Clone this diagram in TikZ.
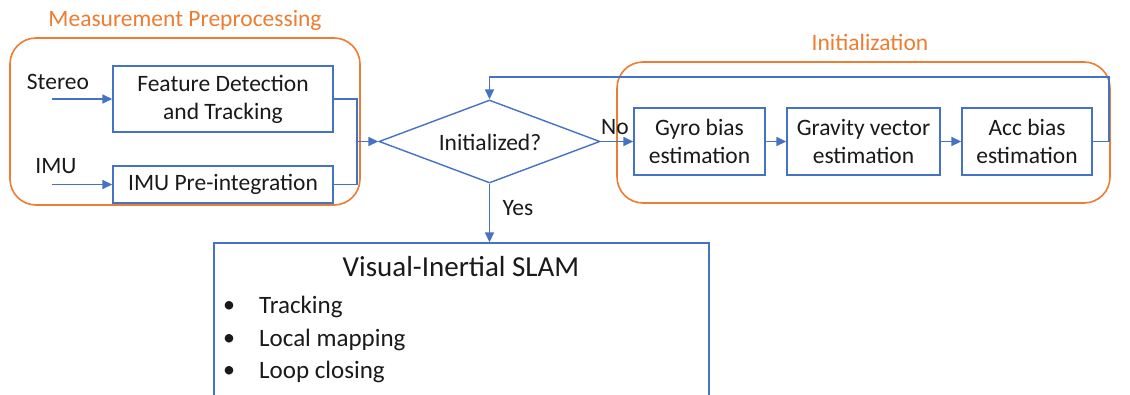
\documentclass[tikz,border=0pt]{standalone}
\usepackage{fontspec}
\setmainfont{Carlito}
\usetikzlibrary{arrows.meta,shapes.geometric}
\definecolor{oblue}{HTML}{4472C4}
\definecolor{oorange}{HTML}{ED7D31}
\definecolor{otext}{HTML}{1A1A1A}
\tikzset{
  bbox/.style={draw=oblue, line width=1.4pt, fill=white, align=center, text=otext, inner sep=0pt, font=\fontsize{23.5}{28}\selectfont},
  grp/.style={draw=oorange, line width=1.6pt, rounded corners=26pt, fill=none, inner sep=0pt},
  grptitle/.style={text=oorange, font=\fontsize{23.5}{28}\selectfont, inner sep=0pt},
  lbl/.style={text=otext, font=\fontsize{23.5}{28}\selectfont, inner sep=0pt},
  conn/.style={draw=oblue, line width=1.5pt},
  arr/.style={conn, -{Triangle[length=10pt,width=9pt]}},
  item/.style={text=otext, font=\fontsize{25}{30}\selectfont, inner sep=0pt, anchor=west},
  bul/.style={text=otext, font=\fontsize{24}{28}\selectfont, inner sep=0pt}
}
\begin{document}
\begin{tikzpicture}[x=1pt,y=-1pt]
\useasboundingbox (0,0) rectangle (1130,394);
\clip (0,0) rectangle (1130,394);
\fill[white] (0,0) rectangle (1130,394);
% groups
\node[grp, minimum width=350pt, minimum height=167pt] (gmeas) at (185,121.5) {};
\node[grptitle] (tmeas) at (185,20) {Measurement Preprocessing};
\node[grp, minimum width=493pt, minimum height=141pt] (ginit) at (863.5,132.5) {};
\node[grptitle] (tinit) at (870,42) {Initialization};
% boxes
\node[bbox, minimum width=220pt, minimum height=66pt] (feat) at (223,99) {Feature Detection\\and Tracking};
\node[bbox, minimum width=220pt, minimum height=37pt] (imu) at (223,184.5) {IMU Pre-integration};
\node[lbl] (lstereo) at (58,82) {Stereo};
\node[lbl] (limu) at (56,166) {IMU};
\coordinate (cstereo) at (52,99);
\coordinate (cimu) at (52,184.5);
\node[draw=oblue, line width=1.4pt, diamond, aspect=2.66, minimum width=221pt, minimum height=83pt, inner sep=0pt] (dia) at (489.5,141.5) {};
\node[lbl] (tdia) at (490,142) {Initialized?};
\node[bbox, minimum width=131pt, minimum height=67pt] (gyro) at (699.5,141.5) {Gyro bias\\estimation};
\node[bbox, minimum width=153pt, minimum height=67pt] (grav) at (863.5,141.5) {Gravity vector\\estimation};
\node[bbox, minimum width=130pt, minimum height=67pt] (acc) at (1027,141.5) {Acc bias\\estimation};
\node[draw=oblue, line width=1.4pt, fill=white, inner sep=0pt, minimum width=495pt, minimum height=190pt] (slam) at (461.5,338) {};
\node[text=otext, font=\fontsize{29}{34}\selectfont, inner sep=0pt] (tslam) at (461,267) {Visual-Inertial SLAM};
\node[item] (i1) at (259,307) {Tracking};
\node[item] (i2) at (259,340) {Local mapping};
\node[item] (i3) at (259,372) {Loop closing};
\node[bul] (b1) at (229,307) {•};
\node[bul] (b2) at (229,340) {•};
\node[bul] (b3) at (229,372) {•};
% connectors
\draw[arr] (cstereo) -- (feat.west);
\draw[arr] (cimu) -- (imu.west);
\coordinate (mj) at (357,141.5);
\draw[conn] (feat.east) -| (mj);
\draw[conn] (imu.east) -| (mj);
\draw[arr] (mj) -- (dia.west);
\draw[arr] (dia.east) -- (gyro.west);
\node[lbl] (lno) at (615,127) {No};
\draw[arr] (gyro.east) -- (grav.west);
\draw[arr] (grav.east) -- (acc.west);
\coordinate (fb1) at (1109,141.5);
\coordinate (fb2) at (1109,77);
\draw[arr] (acc.east) -- (fb1) -- (fb2) -- (dia.north |- fb2) -- (dia.north);
\draw[arr] (dia.south) -- (dia.south |- slam.north);
\node[lbl] (lyes) at (518,208) {Yes};
\end{tikzpicture}
\end{document}
